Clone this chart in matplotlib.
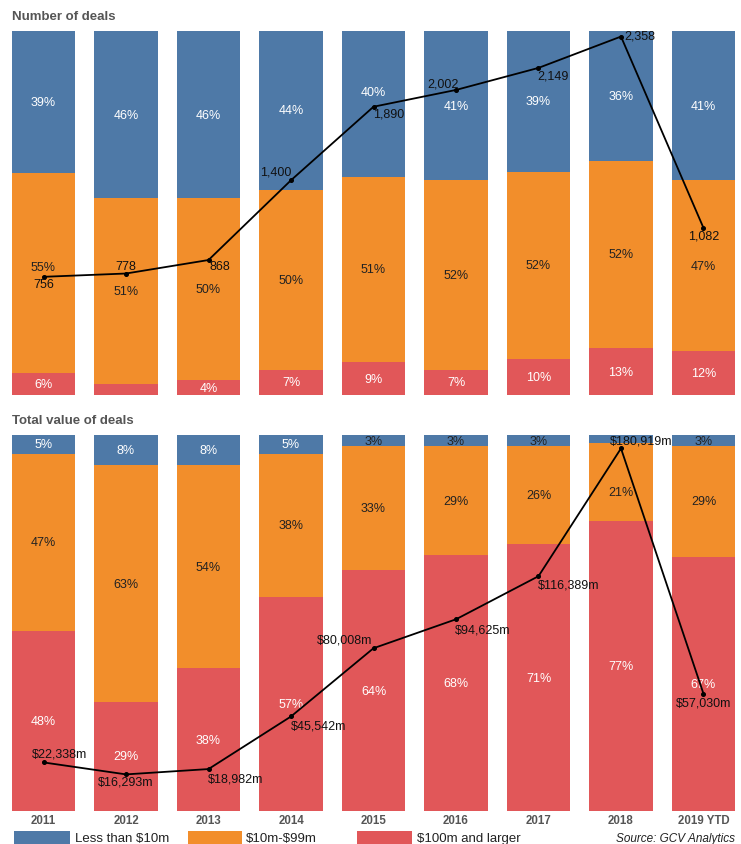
import matplotlib
matplotlib.use("Agg")
import matplotlib.pyplot as plt
from matplotlib.patches import Rectangle
import numpy as np

plt.rcParams['font.family'] = ['Liberation Sans', 'DejaVu Sans']

years = ["2011", "2012", "2013", "2014", "2015", "2016", "2017", "2018", "2019 YTD"]

# Number of deals: share by deal size (%) and total count
count_small = [39, 46, 46, 44, 40, 41, 39, 36, 41]
count_mid = [55, 51, 50, 50, 51, 52, 52, 52, 47]
count_large = [6, 3, 4, 7, 9, 7, 10, 13, 12]
count_total = [756, 778, 868, 1400, 1890, 2002, 2149, 2358, 1082]

# Total value of deals: share by deal size (%) and total value ($m)
value_small = [5, 8, 8, 5, 3, 3, 3, 2, 3]
value_mid = [47, 63, 54, 38, 33, 29, 26, 21, 29]
value_large = [48, 29, 38, 57, 64, 68, 71, 77, 67]
value_total = [22338, 16293, 18982, 45542, 80008, 94625, 116389, 180919, 57030]

series_names = ["Less than \\$10m", "\\$10m-\\$99m", "\\$100m and larger"]
colors = ["#4E79A7", "#F28E2B", "#E15759"]

W, H = 741, 845
fig = plt.figure(figsize=(W / 100, H / 100), dpi=100)


def ax_rect(left, top, right, bottom):
    return [left / W, (H - bottom) / H, (right - left) / W, (bottom - top) / H]


ax1 = fig.add_axes(ax_rect(12, 32, 735, 396))
ax2 = fig.add_axes(ax_rect(12, 436, 735, 812))

x = np.arange(len(years))
bar_w = 0.764


def stacked(ax, parts, hidden, nudges, dark_small):
    arr = np.array(parts, dtype=float)  # rows: large, mid, small (bottom to top)
    totals = arr.sum(axis=0)
    share = arr / totals * 100
    bottom = np.zeros(len(years))
    layer_cols = [colors[2], colors[1], colors[0]]
    for li, (row, raw) in enumerate(zip(share, arr)):
        ax.bar(x, row, bottom=bottom, width=bar_w, color=layer_cols[li], linewidth=0)
        for i in range(len(years)):
            if (li, i) in hidden:
                continue
            yc = bottom[i] + row[i] / 2 + nudges.get((li, i), 0)
            if li == 1:
                tc = "#222222"
            elif li == 2 and raw[i] <= dark_small:
                tc = "#222222"
            else:
                tc = "white"
            ax.text(x[i], yc, f"{int(raw[i])}%", ha="center", va="center",
                    fontsize=9, color=tc, zorder=3)
        bottom = bottom + row
    ax.set_xlim(-0.382, len(years) - 1 + 0.382)
    ax.set_ylim(0, 100)
    ax.axis("off")


stacked(ax1, [count_large, count_mid, count_small], hidden={(0, 1)},
        nudges={(1, 0): 1.6, (2, 4): 3.3}, dark_small=0)
stacked(ax2, [value_large, value_mid, value_small], hidden={(2, 7)},
        nudges={(1, 7): -2.7}, dark_small=3)

# Totals line on twin axes
t1 = ax1.twinx()
t1.set_ylim(-32, 2395)
t1.plot(x, count_total, color="black", lw=1.3, marker="o", ms=2.6, zorder=5)
t1.axis("off")

t2 = ax2.twinx()
t2.set_ylim(-2200, 187700)
t2.plot(x, value_total, color="black", lw=1.3, marker="o", ms=2.6, zorder=5)
t2.axis("off")

count_lbl = [("center", 0, -7.5), ("center", 0, 8), ("left", 1, -5.5),
             ("right", 0, 8.5), ("left", 0, -6.5), ("right", 3, 6.5),
             ("left", -1, -8), ("left", 3, 1.5), ("center", 0, -8)]
for i, v in enumerate(count_total):
    ha, dx, dy = count_lbl[i]
    t1.annotate(f"{v:,}", (x[i], v), xytext=(dx, dy), textcoords="offset pixels",
                ha=ha, va="center", fontsize=9, color="#111111", zorder=6)

value_lbl = [("left", -12, 9), ("center", 0, -7), ("left", -1, -9),
             ("left", 0, -9.4), ("right", -1, 9), ("left", -1, -10),
             ("left", -1, -8.3), ("left", -11, 8), ("center", 0, -9)]
for i, v in enumerate(value_total):
    ha, dx, dy = value_lbl[i]
    t2.annotate(f"${v:,}m", (x[i], v), xytext=(dx, dy), textcoords="offset pixels",
                ha=ha, va="center", fontsize=9, color="#111111", zorder=6,
                annotation_clip=False)

# Year labels under the lower panel
for i, yr in enumerate(years):
    ax2.text(x[i], -2.4, yr, ha="center", va="center", fontsize=8.3,
             fontweight="bold", color="#555555", transform=ax2.transData,
             clip_on=False)

# Panel titles
fig.text(12 / W, (H - 17) / H, "Number of deals", ha="left", va="center",
         fontsize=9.5, fontweight="bold", color="#555555")
fig.text(12 / W, (H - 421) / H, "Total value of deals", ha="left", va="center",
         fontsize=9.5, fontweight="bold", color="#555555")

# Legend
legend_items = [(14, 70, 75), (188, 242, 246), (357, 412, 417)]
for (x0, x1, tx), name, col in zip(legend_items, series_names, colors):
    fig.add_artist(Rectangle((x0 / W, -0.01), (x1 - x0) / W, 0.01 + 13 / H,
                             transform=fig.transFigure, color=col, lw=0))
    fig.text(tx / W, 6 / H, name, ha="left", va="center", fontsize=9.5,
             color="#222222")
fig.text(735 / W, 6 / H, "Source: GCV Analytics", ha="right", va="center",
         fontsize=8.5, style="italic", color="#222222")

fig.savefig("out.png", dpi=100)
